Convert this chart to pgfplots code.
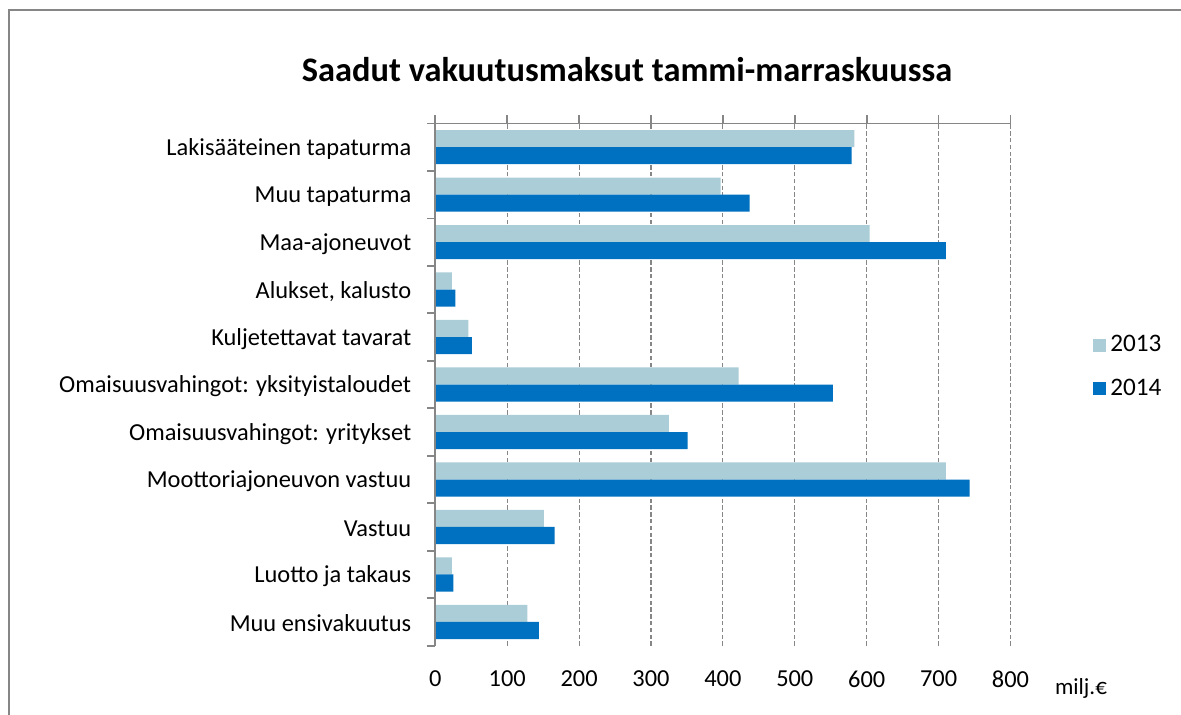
\documentclass[border=0pt]{standalone}
\usepackage{pgfplots}
\pgfplotsset{compat=1.18}
\usepackage{fontspec}
\setmainfont{Carlito}
\definecolor{c13}{HTML}{AACDD7}
\definecolor{c14}{HTML}{0070C0}
\definecolor{axgray}{HTML}{868686}
\begin{document}
\begin{tikzpicture}
\useasboundingbox (0,0) rectangle (590.5pt,-357.5pt);
\draw[axgray, line width=1pt] (4.25pt,-358pt) -- (4.25pt,-5.25pt) -- (591pt,-5.25pt);
\node[font=\fontsize{17.2}{20}\selectfont\bfseries] at (313.5pt,-35pt) {Saadut vakuutusmaksut tammi-marraskuussa};
\begin{axis}[
  at={(217.65pt,-322.85pt)}, anchor=south west,
  scale only axis, width=287.6pt, height=261.15pt,
  xbar, xmin=0, xmax=800, ymin=-0.5, ymax=10.5,
  bar width=0.36, clip=false,
  axis line style={draw=none},
  tick align=outside, major tick length=4pt,
  tick style={axgray, line width=0.85pt},
  xtick={0,100,...,800}, xtick pos=right, xticklabel pos=left,
  xmajorgrids, grid style={axgray, dash pattern=on 2.2pt off 1.2pt, line width=0.55pt},
  ytick={-0.5,0.5,...,10.5}, yticklabels={}, ytick pos=left,
  extra y ticks={0,1,2,3,4,5,6,7,8,9,10},
  extra y tick labels={Muu ensivakuutus,Luotto ja takaus,Vastuu,Moottoriajoneuvon vastuu,Omaisuusvahingot: yritykset,Omaisuusvahingot: yksityistaloudet,Kuljetettavat tavarat,{Alukset, kalusto},Maa-ajoneuvot,Muu tapaturma,Lakisääteinen tapaturma},
  extra y tick style={major tick length=0pt},
  tick label style={font=\fontsize{12.2}{14}\selectfont, text=black},
  yticklabel style={xshift=-8.5pt, yshift=-0.8pt},
  xticklabel style={yshift=-5pt},
  /pgf/number format/assume math mode=true,
  legend style={at={(axis description cs:1.1434,0.534)}, anchor=west, draw=none, fill=none,
    font=\fontsize{12.6}{14}\selectfont, row sep=8pt, inner sep=0pt},
  legend cell align=left,
  legend image code/.code={\fill[#1] (0pt,-3.25pt) rectangle (6.5pt,3.25pt);},
]
\addplot[fill=c13, draw=none, bar shift=0.18] coordinates {
(583,10) (397,9) (604,8) (23,7) (46,6) (422,5) (325,4) (710,3) (151,2) (23,1) (128,0)};
\addplot[fill=c14, draw=none, bar shift=-0.18] coordinates {
(579,10) (437,9) (710,8) (28,7) (51,6) (553,5) (351,4) (743,3) (166,2) (25,1) (144,0)};
\legend{2013,2014}
\draw[axgray, line width=0.85pt] (rel axis cs:0,0) -- (rel axis cs:0,1) -- (rel axis cs:1,1);
\end{axis}
\node[font=\fontsize{11.5}{14}\selectfont] at (540.5pt,-344pt) {milj.€};
\end{tikzpicture}
\end{document}
